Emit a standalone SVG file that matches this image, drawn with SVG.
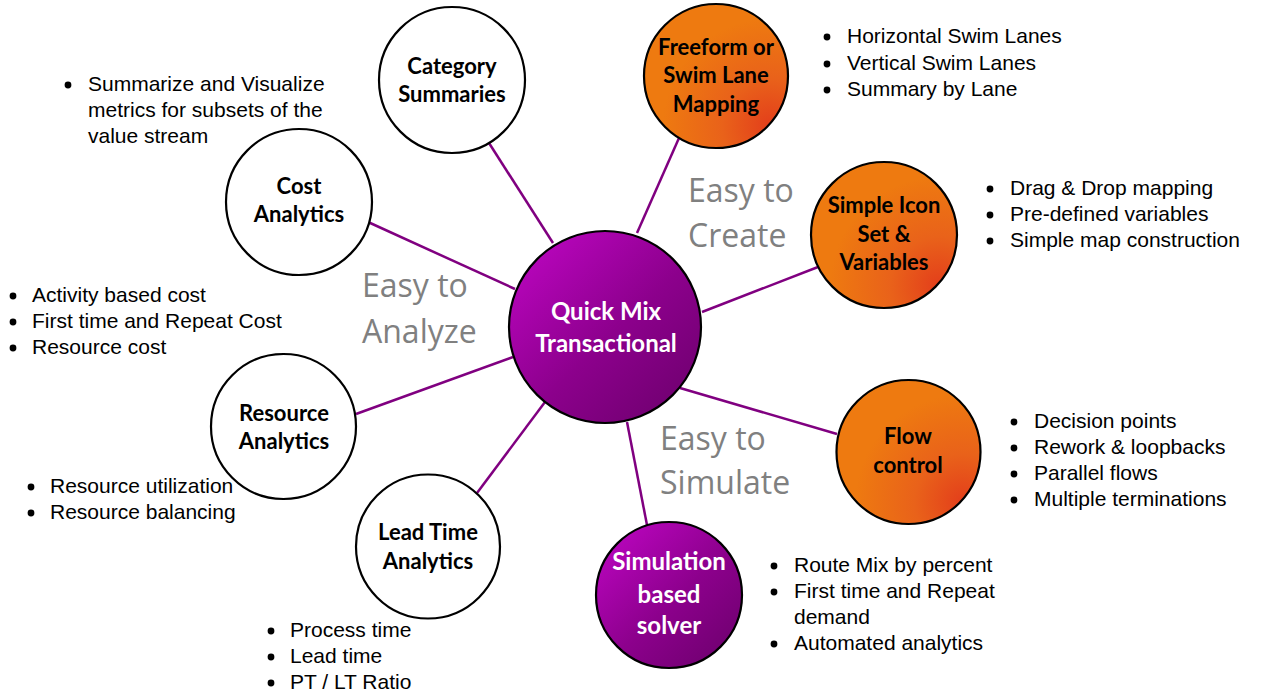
<svg xmlns="http://www.w3.org/2000/svg" width="1261" height="694" viewBox="0 0 1261 694">
<defs>
<linearGradient id="gPurple" x1="0.12" y1="0.1" x2="0.88" y2="0.9">
<stop offset="0" stop-color="#B705BB"/>
<stop offset="0.55" stop-color="#8C008C"/>
<stop offset="1" stop-color="#720072"/>
</linearGradient>
<radialGradient id="gOrange" cx="0.88" cy="0.85" r="0.75">
<stop offset="0" stop-color="#E33E1B"/>
<stop offset="0.45" stop-color="#E9621A"/>
<stop offset="1" stop-color="#EE7A10"/>
</radialGradient>
<style>
.wn{fill:#FFFFFF;stroke:#000000;stroke-width:2.2}
.pn{fill:url(#gPurple);stroke:#000000;stroke-width:2.2}
.on{fill:url(#gOrange);stroke:#000000;stroke-width:2.2}
.lbl{font-family:Lato,"Open Sans",sans-serif;font-weight:bold;font-size:22px;fill:#000000;text-anchor:middle}
.lblw{font-family:Lato,"Open Sans",sans-serif;font-weight:bold;font-size:24px;fill:#FFFFFF;text-anchor:middle}
.easy{font-family:"Open Sans",Lato,sans-serif;font-size:32px;fill:#808080}
.bt{font-family:"Liberation Sans",Arial,sans-serif;font-size:21px;fill:#000000}
.dot{fill:#000000}
.conn line{stroke:#800080;stroke-width:2.5}
</style>
</defs>
<rect width="1261" height="694" fill="#FFFFFF"/>
<g id="connectors" class="conn">
<line x1="489" y1="143" x2="553" y2="243"/>
<line x1="368" y1="222" x2="515" y2="289"/>
<line x1="356" y1="414" x2="513" y2="357"/>
<line x1="477" y1="493" x2="545" y2="402"/>
<line x1="627" y1="422" x2="647" y2="525"/>
<line x1="680" y1="388" x2="837" y2="434"/>
<line x1="702" y1="312" x2="818" y2="267"/>
<line x1="637" y1="233" x2="679" y2="138"/>
</g>
<g id="center">
<circle class="pn" cx="605" cy="327" r="96"/>
<text class="lblw" x="606" y="320" font-size="25">Quick Mix</text>
<text class="lblw" x="606" y="352" font-size="25">Transactional</text>
</g>
<g id="category-summaries">
<circle class="wn" cx="452" cy="80" r="73"/>
<text class="lbl" x="452" y="74">Category</text>
<text class="lbl" x="452" y="102">Summaries</text>
</g>
<g id="cost-analytics">
<circle class="wn" cx="299" cy="202" r="73"/>
<text class="lbl" x="299" y="194">Cost</text>
<text class="lbl" x="299" y="222">Analytics</text>
</g>
<g id="resource-analytics">
<circle class="wn" cx="283.5" cy="426.5" r="72.5"/>
<text class="lbl" x="284" y="421">Resource</text>
<text class="lbl" x="284" y="449">Analytics</text>
</g>
<g id="lead-time-analytics">
<circle class="wn" cx="428" cy="546.5" r="72"/>
<text class="lbl" x="428" y="540">Lead Time</text>
<text class="lbl" x="428" y="569">Analytics</text>
</g>
<g id="simulation-solver">
<circle class="pn" cx="669" cy="595" r="73"/>
<text class="lblw" x="669" y="570">Simulation</text>
<text class="lblw" x="669" y="603">based</text>
<text class="lblw" x="669" y="634">solver</text>
</g>
<g id="freeform-mapping">
<circle class="on" cx="716" cy="76" r="72"/>
<text class="lbl" x="716" y="55">Freeform or</text>
<text class="lbl" x="716" y="83">Swim Lane</text>
<text class="lbl" x="716" y="112">Mapping</text>
</g>
<g id="simple-icon-set">
<circle class="on" cx="884" cy="235" r="73"/>
<text class="lbl" x="884" y="213">Simple Icon</text>
<text class="lbl" x="884" y="242">Set &amp;</text>
<text class="lbl" x="884" y="270">Variables</text>
</g>
<g id="flow-control">
<circle class="on" cx="908.5" cy="452" r="72"/>
<text class="lbl" x="908" y="444">Flow</text>
<text class="lbl" x="908" y="473">control</text>
</g>
<g id="labels">
<text class="easy" x="362" y="297">Easy to</text>
<text class="easy" x="362" y="343">Analyze</text>
<text class="easy" x="688" y="202">Easy to</text>
<text class="easy" x="688" y="247">Create</text>
<text class="easy" x="660" y="450">Easy to</text>
<text class="easy" x="660" y="494">Simulate</text>
</g>
<g id="bullets-category">
<circle class="dot" cx="68" cy="85" r="3.4"/>
<text class="bt" x="88" y="91">Summarize and Visualize</text>
<text class="bt" x="88" y="117">metrics for subsets of the</text>
<text class="bt" x="88" y="143">value stream</text>
</g>
<g id="bullets-cost">
<circle class="dot" cx="13" cy="296" r="3.4"/>
<text class="bt" x="32" y="302">Activity based cost</text>
<circle class="dot" cx="13" cy="322" r="3.4"/>
<text class="bt" x="32" y="328">First time and Repeat Cost</text>
<circle class="dot" cx="13" cy="348" r="3.4"/>
<text class="bt" x="32" y="354">Resource cost</text>
</g>
<g id="bullets-resource">
<circle class="dot" cx="31" cy="487" r="3.4"/>
<text class="bt" x="50" y="493">Resource utilization</text>
<circle class="dot" cx="31" cy="513" r="3.4"/>
<text class="bt" x="50" y="519">Resource balancing</text>
</g>
<g id="bullets-leadtime">
<circle class="dot" cx="271" cy="631" r="3.4"/>
<text class="bt" x="290" y="637">Process time</text>
<circle class="dot" cx="271" cy="657" r="3.4"/>
<text class="bt" x="290" y="663">Lead time</text>
<circle class="dot" cx="271" cy="683" r="3.4"/>
<text class="bt" x="290" y="689">PT / LT Ratio</text>
</g>
<g id="bullets-freeform">
<circle class="dot" cx="827" cy="37" r="3.4"/>
<text class="bt" x="847" y="43">Horizontal Swim Lanes</text>
<circle class="dot" cx="827" cy="64" r="3.4"/>
<text class="bt" x="847" y="70">Vertical Swim Lanes</text>
<circle class="dot" cx="827" cy="90" r="3.4"/>
<text class="bt" x="847" y="96">Summary by Lane</text>
</g>
<g id="bullets-icon">
<circle class="dot" cx="990" cy="189" r="3.4"/>
<text class="bt" x="1010" y="195">Drag &amp; Drop mapping</text>
<circle class="dot" cx="990" cy="215" r="3.4"/>
<text class="bt" x="1010" y="221">Pre-defined variables</text>
<circle class="dot" cx="990" cy="241" r="3.4"/>
<text class="bt" x="1010" y="247">Simple map construction</text>
</g>
<g id="bullets-flow">
<circle class="dot" cx="1014" cy="422" r="3.4"/>
<text class="bt" x="1034" y="428">Decision points</text>
<circle class="dot" cx="1014" cy="448" r="3.4"/>
<text class="bt" x="1034" y="454">Rework &amp; loopbacks</text>
<circle class="dot" cx="1014" cy="474" r="3.4"/>
<text class="bt" x="1034" y="480">Parallel flows</text>
<circle class="dot" cx="1014" cy="500" r="3.4"/>
<text class="bt" x="1034" y="506">Multiple terminations</text>
</g>
<g id="bullets-simulation">
<circle class="dot" cx="774" cy="566" r="3.4"/>
<text class="bt" x="794" y="572">Route Mix by percent</text>
<circle class="dot" cx="774" cy="592" r="3.4"/>
<text class="bt" x="794" y="598">First time and Repeat</text>
<text class="bt" x="794" y="624">demand</text>
<circle class="dot" cx="774" cy="644" r="3.4"/>
<text class="bt" x="794" y="650">Automated analytics</text>
</g>
</svg>
